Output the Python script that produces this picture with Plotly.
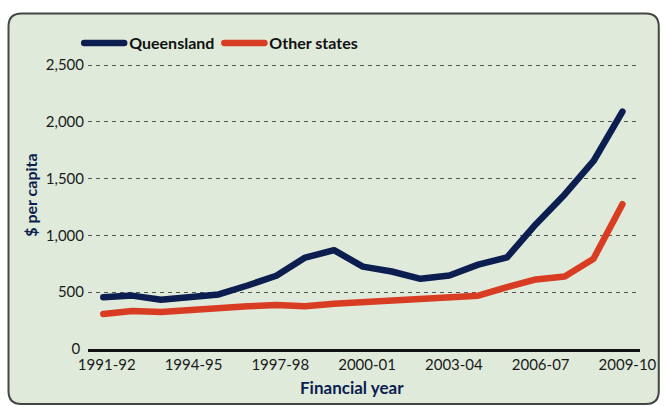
import plotly.graph_objects as go

years = ["1991-92", "1992-93", "1993-94", "1994-95", "1995-96", "1996-97", "1997-98",
         "1998-99", "1999-00", "2000-01", "2001-02", "2002-03", "2003-04", "2004-05",
         "2005-06", "2006-07", "2007-08", "2008-09", "2009-10"]
queensland = [455, 470, 434, 460, 480, 559, 645, 805, 870, 725, 682, 618, 647, 743,
              807, 1099, 1361, 1655, 2090]
other_states = [308, 335, 326, 347, 361, 376, 387, 376, 399, 411, 426, 434, 454, 469,
                545, 612, 638, 795, 1275]
tick_labels = ["1991-92", "1994-95", "1997-98", "2000-01", "2003-04", "2006-07", "2009-10"]
y_ticks = [0, 500, 1000, 1500, 2000, 2500]
y_tick_labels = ["0\u00a0", "500", "1,000", "1,500", "2,000", "2,500"]

W, H = 668, 406
L, R, T, B = 88, 21, 63, 57
pw, ph = W - L - R, H - T - B
Y_MAX = 2500 * ph / (H - B - 65)

def px(x):
    return (x - L) / pw

def py(y):
    return (H - B - y) / ph

# rounded box in pixel coords converted to paper coords
x0, y0, x1, y1, r = 7.5, 13.5, 666, 404, 13
path = (f"M {px(x0+r)},{py(y0)} L {px(x1-r)},{py(y0)} Q {px(x1)},{py(y0)} {px(x1)},{py(y0+r)} "
        f"L {px(x1)},{py(y1-r)} Q {px(x1)},{py(y1)} {px(x1-r)},{py(y1)} "
        f"L {px(x0+r)},{py(y1)} Q {px(x0)},{py(y1)} {px(x0)},{py(y1-r)} "
        f"L {px(x0)},{py(y0+r)} Q {px(x0)},{py(y0)} {px(x0+r)},{py(y0)} Z")

idx = list(range(len(years)))
navy = "#0c1d4f"
red = "#d83c22"
font = "Lato"

# label positions: slightly offset from the data points, as in the original
tick_pos = [years.index(t) * 1.003 + 0.12 for t in tick_labels]

fig = go.Figure()
fig.add_trace(go.Scatter(x=idx, y=queensland, mode="lines", name="<b>Queensland</b>",
                         line=dict(color=navy, width=6.5), text=years))
fig.add_trace(go.Scatter(x=idx, y=other_states, mode="lines", name="<b>Other states</b>",
                         line=dict(color=red, width=6.5), text=years))

fig.update_layout(
    width=W, height=H,
    margin=dict(l=L, r=R, t=T, b=B),
    paper_bgcolor="white",
    plot_bgcolor="rgba(0,0,0,0)",
    font=dict(family=font, size=15, color="#1a1a1a"),
    shapes=[dict(type="path", path=path, xref="paper", yref="paper",
                 fillcolor="#dfeadb", line=dict(color="#454545", width=2), layer="below")],
    legend=dict(orientation="h", x=-0.016, y=1 + (T - 43) / ph,
                xanchor="left", yanchor="middle",
                font=dict(size=16, color="#111111", family=font),
                itemwidth=40, bgcolor="rgba(0,0,0,0)", traceorder="normal"),
    xaxis=dict(range=[-0.53, 18.61], tickmode="array",
               tickvals=tick_pos, ticktext=tick_labels,
               showgrid=False, zeroline=False, showline=True, linecolor="#111111", linewidth=2.5,
               ticks="", tickfont=dict(size=15, color="#1a1a1a")),
    yaxis=dict(range=[0, Y_MAX], tickmode="array", tickvals=y_ticks, ticktext=y_tick_labels,
               showgrid=True, gridcolor="#555555", gridwidth=1, griddash="4px,4px",
               zeroline=False, showline=False, ticks="", ticklabelstandoff=3,
               tickfont=dict(size=15, color="#1a1a1a")),
    annotations=[
        dict(text="<b>Financial year</b>", xref="paper", yref="paper",
             x=px(355), y=py(387), xanchor="center", yanchor="middle", showarrow=False,
             font=dict(size=17, color=navy, family=font)),
        dict(text="<b>$ per capita</b>", xref="paper", yref="paper", textangle=-90,
             x=px(29), y=py(195), xanchor="center", yanchor="middle", showarrow=False,
             font=dict(size=16, color=navy, family=font)),
    ],
)

js = ("document.body.style.margin='0';document.body.style.overflow='hidden';"
      "document.querySelectorAll('.scatterlayer .js-line, .legendlines path')"
      ".forEach(function(p){p.style.strokeLinecap='round';p.style.strokeLinejoin='round';});")
fig.write_html("out.html", config={"displayModeBar": False}, post_script=js)
